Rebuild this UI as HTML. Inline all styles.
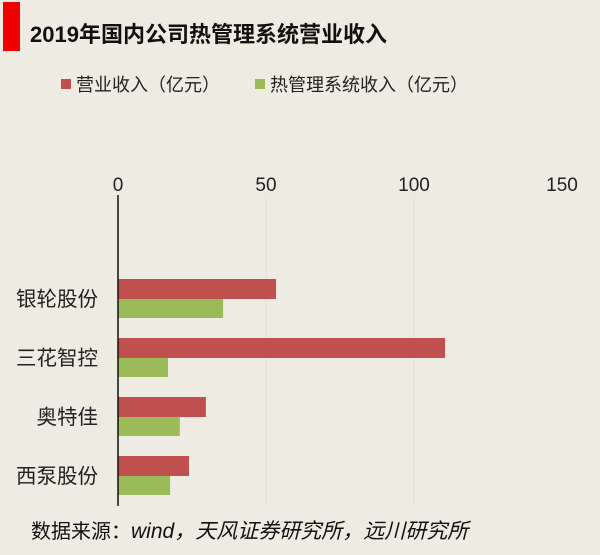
<!DOCTYPE html>
<html><head><meta charset="utf-8">
<style>
body{margin:0;width:600px;height:555px;background:#eeebe3;overflow:hidden;font-family:"Liberation Sans","Noto Sans CJK SC",sans-serif;}
svg{display:block}
</style></head>
<body>
<svg id="chart" width="600" height="555" xmlns="http://www.w3.org/2000/svg">
<rect x="0" y="0" width="600" height="555" fill="#eeebe3"/>
<rect x="3" y="2" width="17" height="49" fill="#ee0000"/>
<text x="30" y="42" font-size="22" font-weight="bold" fill="#111">2019年国内公司热管理系统营业收入</text>
<g>
<rect x="61" y="79" width="10" height="10" fill="#c0504d"/>
<text x="76" y="91" font-size="18" fill="#222">营业收入（亿元）</text>
<rect x="255" y="79" width="10" height="10" fill="#9bbb59"/>
<text x="270" y="91" font-size="18" fill="#222">热管理系统收入（亿元）</text>
</g>
<g id="plot"></g>
<text x="31" y="538" font-size="20" fill="#111">数据来源：<tspan font-style="italic" font-size="21">wind，天风证券研究所，远川研究所</tspan></text>
</svg>
<script>
const categories=["银轮股份","三花智控","奥特佳","西泵股份"];
const revenue=[53.4,110.5,29.7,24.0];
const thermal=[35.5,16.9,20.9,17.6];
const ticks=[0,50,100,150];
const NS="http://www.w3.org/2000/svg";
const plot=document.getElementById('plot');
const x0=118,pxPer=2.96;
const xs=v=>x0+v*pxPer;
const bandTop=269,step=59,barH=20;
function mk(tag,attrs){const e=document.createElementNS(NS,tag);for(const k in attrs)e.setAttribute(k,attrs[k]);plot.appendChild(e);return e;}
ticks.forEach((t,i)=>{
  if(t>0 && t<150){const g=mk('line',{x1:xs(t),x2:xs(t),y1:195,y2:506,stroke:'#e4e0d7','stroke-width':1});
  
  }
  const tx=mk('text',{x:xs(t),y:191,'font-size':19,fill:'#222','text-anchor':'middle'});
  tx.textContent=t;
  
  
});
categories.forEach((c,i)=>{
  const y=bandTop+i*step+10;
  const r=mk('rect',{x:x0,y:y,width:xs(revenue[i])-x0,height:barH,fill:'#c0504d'});
  
  
  const g=mk('rect',{x:x0,y:y+barH,width:xs(thermal[i])-x0,height:barH-1,fill:'#9bbb59'});
  
  
  const t=mk('text',{x:98,y:y+barH+7,'font-size':20.5,fill:'#222','text-anchor':'end'});
  t.textContent=c;
  
  
});
const ax=mk('line',{x1:x0,x2:x0,y1:195,y2:506,stroke:'#111','stroke-width':1.5});


</script>
</body></html>
